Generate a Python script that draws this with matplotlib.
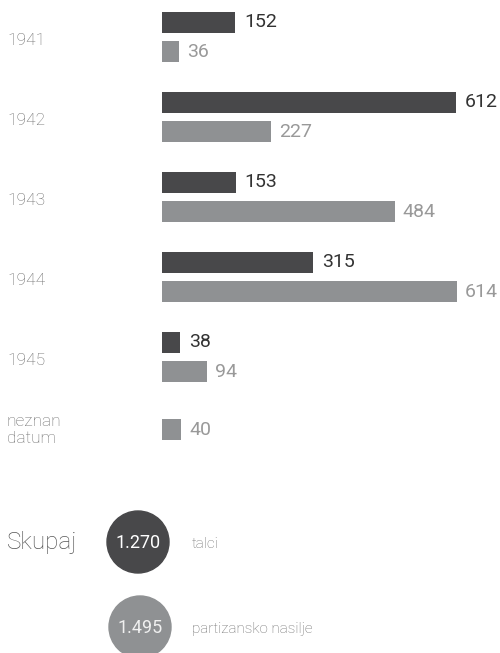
import matplotlib
matplotlib.use("Agg")
import matplotlib.pyplot as plt
from matplotlib.patches import Circle
import matplotlib.transforms as mtransforms

categories = ["1941", "1942", "1943", "1944", "1945", "neznan\ndatum"]
talci = [152, 612, 153, 315, 38, None]
partizansko = [36, 227, 484, 614, 94, 40]
series_names = ["talci", "partizansko nasilje"]
total_label = "Skupaj"

DARK = "#48484a"
GRAY = "#8f9193"
DARK_TXT = "#333333"
GRAY_TXT = "#999999"
LABEL_TXT = "#6e6e6e"

plt.rcParams['font.family'] = ['Roboto', 'DejaVu Sans']

W, H = 500, 653
fig = plt.figure(figsize=(W / 100, H / 100), dpi=100)

# bar axes: pixel x 162..462, pixel y 0..460
px_per_unit = 294 / 612
ax_w = 300
ax = fig.add_axes([162 / W, 1 - 460 / H, ax_w / W, 460 / H])
ax.set_xlim(0, ax_w / px_per_unit)
ax.set_ylim((460 - 37) / 80, -37 / 80)
ax.axis("off")

bh = 21 / 80
off = 14.75 / 80
for i, (d, g) in enumerate(zip(talci, partizansko)):
    if d is not None:
        ax.barh(i - off, d, height=bh, color=DARK, left=0)
        ax.annotate(f"{d}", (d, i - off), xytext=(9, 0), textcoords="offset pixels",
                    va="center", ha="left", fontsize=14, color=DARK_TXT)
        gy = i + off
    else:
        gy = i - 0.09
    ax.barh(gy, g, height=bh, color=GRAY, left=0)
    ax.annotate(f"{g}", (g, gy), xytext=(8, 0), textcoords="offset pixels",
                va="center", ha="left", fontsize=14, color=GRAY_TXT)

trans = mtransforms.blended_transform_factory(fig.transFigure, ax.transData)
for i, c in enumerate(categories):
    y = i + 0.04 if "\n" not in c else i - 0.09
    ax.text(7 / W, y, c, transform=trans, ha="left", va="center",
            fontsize=12.5, color=LABEL_TXT, fontweight="light", linespacing=1.2,
            clip_on=False)

# totals overlay in pixel coords
ov = fig.add_axes([0, 0, 1, 1])
ov.set_xlim(0, W)
ov.set_ylim(H, 0)
ov.axis("off")
totals = [sum(v for v in talci if v is not None), sum(partizansko)]
colors = [DARK, GRAY]
for k, (t, col, name) in enumerate(zip(totals, colors, series_names)):
    cy = 542 + 85 * k
    cx = 138 + 2 * k
    ov.add_patch(Circle((cx, cy), 31, color=col, zorder=2))
    ov.text(cx, cy + 1, f"{t // 1000}.{t % 1000:03d}", ha="center", va="center",
            fontsize=13, color="white" if k == 0 else "#f0f0f0", zorder=3)
    ov.text(192, cy + 2, name, ha="left", va="center", fontsize=11,
            color=LABEL_TXT, fontweight="light")
ov.text(7, 543, total_label, ha="left", va="center", fontsize=17.5,
        color="#555555", fontweight="light")

fig.savefig("out.png", dpi=100)
